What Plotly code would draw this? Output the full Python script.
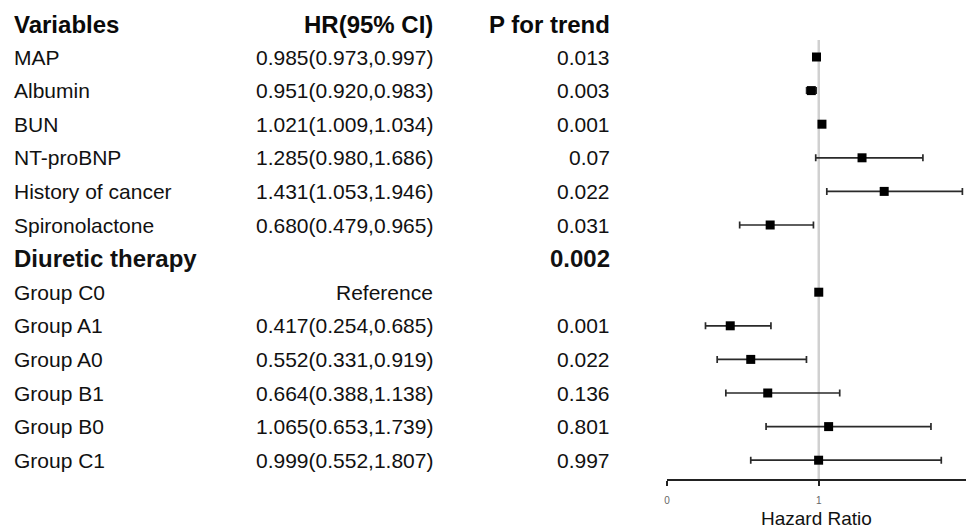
import plotly.graph_objects as go

# ---------------- data ----------------
variables = ["MAP", "Albumin", "BUN", "NT-proBNP", "History of cancer", "Spironolactone",
             "Diuretic therapy", "Group C0", "Group A1", "Group A0", "Group B1", "Group B0", "Group C1"]
hr = [0.985, 0.951, 1.021, 1.285, 1.431, 0.680, None, 1.0, 0.417, 0.552, 0.664, 1.065, 0.999]
lower = [0.973, 0.920, 1.009, 0.980, 1.053, 0.479, None, None, 0.254, 0.331, 0.388, 0.653, 0.552]
upper = [0.997, 0.983, 1.034, 1.686, 1.946, 0.965, None, None, 0.685, 0.919, 1.138, 1.739, 1.807]
hr_text = ["0.985(0.973,0.997)", "0.951(0.920,0.983)", "1.021(1.009,1.034)", "1.285(0.980,1.686)",
           "1.431(1.053,1.946)", "0.680(0.479,0.965)", "", "Reference", "0.417(0.254,0.685)",
           "0.552(0.331,0.919)", "0.664(0.388,1.138)", "1.065(0.653,1.739)", "0.999(0.552,1.807)"]
p_text = ["0.013", "0.003", "0.001", "0.07", "0.022", "0.031", "0.002", "", "0.001",
          "0.022", "0.136", "0.801", "0.997"]
bold_rows = ["Diuretic therapy"]
headers = ["Variables", "HR(95% CI)", "P for trend"]
x_ticks = [0, 1]

# ---------------- layout constants ----------------
W, H = 966, 529
x0_px, px_per_unit = 666, 152.3
row0_px, row_step = 57, 33.6
axis_px = 479
FONT = "Liberation Sans, Arial, sans-serif"

rows = list(range(len(variables)))
pts_y = [r for r, v in zip(rows, hr) if v is not None]
pts_x = [v for v in hr if v is not None]
err_p = [(u - v) if (u is not None) else 0 for v, u in zip(hr, upper) if v is not None]
err_m = [(v - l) if (l is not None) else 0 for v, l in zip(hr, lower) if v is not None]

fig = go.Figure()
fig.add_trace(go.Scatter(
    x=pts_x, y=pts_y, mode="markers",
    marker=dict(symbol="square", size=9, color="black"),
    error_x=dict(type="data", array=err_p, arrayminus=err_m, color="#2a2a2a",
                 thickness=1.7, width=3.5),
    showlegend=False, hoverinfo="skip",
))

y_bottom = (axis_px - row0_px) / row_step
y_top = -row0_px / row_step

fig.add_shape(type="line", xref="x", yref="y", x0=1, x1=1,
              y0=(40 - row0_px) / row_step, y1=y_bottom,
              line=dict(color="#d0d0d0", width=2.5), layer="below")

ann = []
txt_size, hdr_size = 21, 24
col_var, col_hr, col_p = 9 / W, 433 / W, 611 / W
hdr_y = -0.97
for text, xp, anchor in zip(headers, [col_var, col_hr, col_p], ["left", "right", "right"]):
    ann.append(dict(text=f"<b>{text}</b>", x=xp, y=hdr_y, xref="paper", yref="y",
                    xanchor=anchor, yanchor="middle", showarrow=False,
                    font=dict(family=FONT, size=hdr_size, color="#0a0a0a")))
for r, (v, h, p) in enumerate(zip(variables, hr_text, p_text)):
    is_bold = v in bold_rows
    size = hdr_size if is_bold else txt_size
    wrap = (lambda s: f"<b>{s}</b>") if is_bold else (lambda s: s)
    for text, xp, anchor in [(v, col_var, "left"), (h, col_hr, "right"), (p, col_p, "right")]:
        if text:
            ann.append(dict(text=wrap(text), x=xp, y=r, xref="paper", yref="y",
                            xanchor=anchor, yanchor="middle", showarrow=False,
                            font=dict(family=FONT, size=size, color="#111111")))

fig.update_layout(
    width=W, height=H,
    margin=dict(l=0, r=0, t=0, b=0),
    paper_bgcolor="white", plot_bgcolor="white",
    annotations=ann,
    xaxis=dict(domain=[x0_px / W, 1], range=[0, (W - x0_px) / px_per_unit],
               tickvals=x_ticks, ticktext=[str(t) for t in x_ticks],
               showline=True, linecolor="#222222", linewidth=1.6,
               ticks="outside", ticklen=5, tickwidth=1.6, tickcolor="#222222",
               ticklabelstandoff=6,
               tickfont=dict(family=FONT, size=10, color="#666666"),
               showgrid=False, zeroline=False,
               title=dict(text="Hazard Ratio", font=dict(family=FONT, size=19, color="#111111"),
                          standoff=10)),
    yaxis=dict(domain=[(H - axis_px) / H, 1], range=[y_bottom, y_top], visible=False),
)

fig.write_html("out.html", config={"displayModeBar": False},
               post_script="document.body.style.margin='0';document.body.style.overflow='hidden';")
